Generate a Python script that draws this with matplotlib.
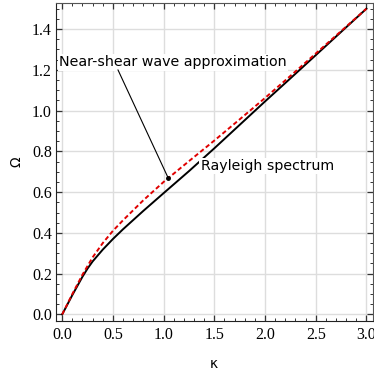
"""Rayleigh spectrum vs near-shear wave approximation."""
import matplotlib.pyplot as plt
import numpy as np
from matplotlib.ticker import MultipleLocator

# data
kappa_rayleigh = [0.0, 0.1, 0.2, 0.25, 0.3, 0.4, 0.5, 0.6, 0.8, 1.0, 1.25, 1.5, 1.75, 2.0, 2.25, 2.5, 2.75, 3.0]
omega_rayleigh = [0.0, 0.095, 0.185, 0.225, 0.26, 0.318, 0.37, 0.418, 0.508, 0.595, 0.703, 0.815, 0.93,
                  1.045, 1.158, 1.272, 1.386, 1.5]

kappa_shear = [0.0, 0.1, 0.2, 0.3, 0.4, 0.5, 0.6, 0.8, 1.0, 1.25, 1.5, 1.75, 2.0, 2.25, 2.5, 2.75, 3.0]
omega_shear = [0.0, 0.1, 0.195, 0.28, 0.35, 0.41, 0.462, 0.56, 0.65, 0.752, 0.853, 0.957, 1.062, 1.17,
               1.28, 1.39, 1.5]

fig = plt.figure(figsize=(3.74, 3.71), dpi=100)
ax = fig.add_axes([0.150, 0.136, 0.846, 0.857])

ax.plot(kappa_rayleigh, omega_rayleigh, color='black', lw=1.4, zorder=3)
ax.plot(kappa_shear, omega_shear, color='#e00000', lw=1.4, dashes=[2.3, 1.4], zorder=4)

ax.set_xlim(-0.06, 3.06)
ax.set_ylim(-0.03, 1.53)
ax.xaxis.set_major_locator(MultipleLocator(0.5))
ax.xaxis.set_minor_locator(MultipleLocator(0.1))
ax.yaxis.set_major_locator(MultipleLocator(0.2))
ax.yaxis.set_minor_locator(MultipleLocator(0.05))
ax.xaxis.set_major_formatter(plt.FuncFormatter(lambda v, p: f'{v:.1f}'))
ax.yaxis.set_major_formatter(plt.FuncFormatter(lambda v, p: f'{v:.1f}'))

ax.grid(True, which='major', color='#dddddd', lw=1.0, zorder=0)
ax.tick_params(which='both', direction='in', top=True, right=True, color='#333333')
ax.tick_params(which='major', length=4, width=0.9)
ax.tick_params(which='minor', length=2.2, width=0.7)
for lab in ax.get_xticklabels() + ax.get_yticklabels():
    lab.set_family('Liberation Serif')
    lab.set_fontsize(11.5)
ax.tick_params(axis='x', pad=5)
ax.tick_params(axis='y', pad=3)

for side in ['left', 'bottom']:
    ax.spines[side].set_color('#222222')
for side in ['top', 'right']:
    ax.spines[side].set_color('#555555')

ax.set_xlabel('κ', fontsize=10, labelpad=10)
ax.set_ylabel('Ω', fontsize=10, labelpad=6)

# annotations
k_pt = 1.046
o_pt = np.interp(k_pt, kappa_shear, omega_shear)
ax.text(-0.03, 1.238, 'Near-shear wave approximation', fontsize=10.3, ha='left', va='center',
        bbox=dict(boxstyle='square,pad=0.1', facecolor='white', edgecolor='none'), zorder=5)
ax.annotate('', xy=(k_pt, o_pt), xytext=(0.55, 1.2),
            arrowprops=dict(arrowstyle='-', color='black', lw=0.8, shrinkA=0, shrinkB=0), zorder=6)
ax.plot([k_pt], [o_pt], 'o', color='black', ms=2.5, zorder=6)
ax.text(1.366, 0.728, 'Rayleigh spectrum', fontsize=10.2, ha='left', va='center',
        bbox=dict(boxstyle='square,pad=0.1', facecolor='white', edgecolor='none'), zorder=5)

fig.savefig('out.png', dpi=100)
